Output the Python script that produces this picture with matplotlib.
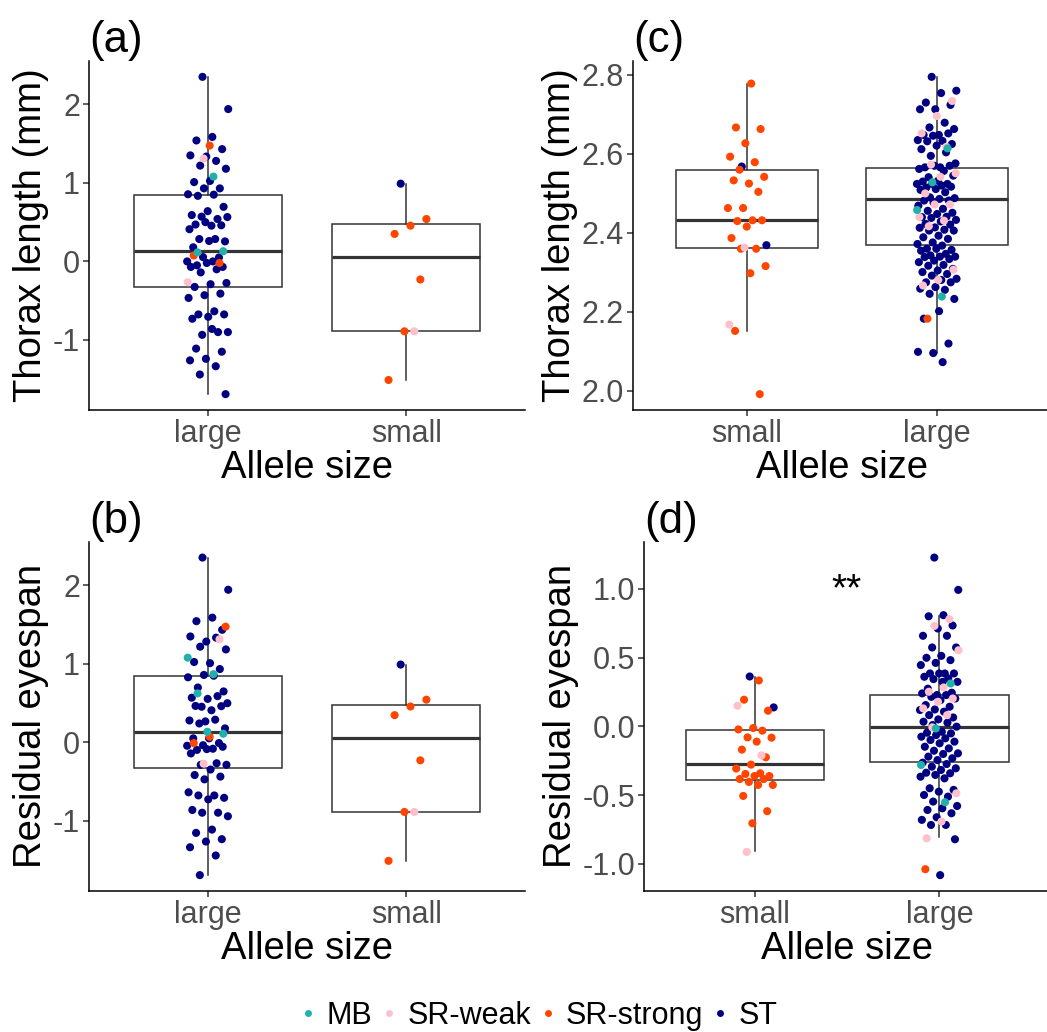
import numpy as np
import matplotlib
matplotlib.use('Agg')
import matplotlib.pyplot as plt
from matplotlib.lines import Line2D

plt.rcParams['font.family'] = ['Liberation Sans', 'DejaVu Sans']

# genotype colours
colours = {'MB': 'lightseagreen', 'SR-weak': 'pink', 'SR-strong': 'orangered', 'ST': 'navy'}

# ---- panel (a): thorax length, allele size groups (large, small)
a_large_st = [2.35, 1.94, 1.585, 1.54, 1.43, 1.335, 1.35, 1.28, 1.22, 1.18, 1.025, 1.01, 0.93, 0.93,
              0.855, 0.85, 0.835, 0.695, 0.64, 0.59, 0.54, 0.57, 0.565, 0.455, 0.47, 0.46, 0.50, 0.41,
              0.285, 0.285, 0.255, 0.26, 0.18, 0.05, 0.055, 0.0, 0.0, -0.05, -0.07, -0.02, -0.07, -0.10,
              -0.14, -0.275, -0.29, -0.325, -0.41, -0.43, -0.465, -0.635, -0.675, -0.675, -0.705, -0.73,
              -0.90, -0.935, -0.90, -0.86, -1.11, -1.15, -1.24, -1.26, -1.335, -1.44, -1.69]
a_large_mb = [1.08, 0.115, 0.13]
a_large_srw = [1.31, -0.265]
a_large_srs = [1.475, 0.075, -0.02]
a_small_st = [0.99]
a_small_mb = []
a_small_srw = [-0.89]
a_small_srs = [0.54, 0.455, 0.35, -0.23, -0.89, -1.51]
# whislo, q1, median, q3, whishi
a_box_large = [-1.69, -0.322, 0.127, 0.847, 2.35]
a_box_small = [-1.51, -0.89, 0.059, 0.479, 0.99]

# ---- panel (b): residual eyespan (large, small)
b_large_st = [2.35, 1.94, 1.585, 1.54, 1.43, 1.28, 1.345, 1.33, 1.215, 1.18, 1.005, 1.02, 0.93, 0.855,
              0.825, 0.845, 0.695, 0.645, 0.55, 0.565, 0.585, 0.45, 0.495, 0.405, 0.46, 0.457, 0.263,
              0.275, 0.285, 0.237, 0.174, 0.047, 0.047, -0.013, -0.04, -0.047, -0.085, -0.10, -0.06,
              -0.09, -0.145, -0.27, -0.29, -0.29, -0.35, -0.42, -0.44, -0.475, -0.64, -0.68, -0.68,
              -0.71, -0.73, -0.865, -0.90, -0.90, -0.945, -1.115, -1.157, -1.237, -1.267, -1.34,
              -1.445, -1.695]
b_large_mb = [1.075, 0.865, 0.62, 0.106, 0.131]
b_large_srw = [1.31, -0.275]
b_large_srs = [1.47, 0.068, -0.013]
b_small_st = [0.987]
b_small_mb = []
b_small_srw = [-0.89]
b_small_srs = [0.54, 0.453, 0.343, -0.233, -0.89, -1.513]
b_box_large = [-1.695, -0.326, 0.123, 0.839, 2.35]
b_box_small = [-1.513, -0.89, 0.055, 0.47, 0.987]

# ---- panel (c): thorax length (small, large)
c_small_st = [2.568, 2.369]
c_small_mb = []
c_small_srw = [2.363, 2.168]
c_small_srs = [2.778, 2.667, 2.663, 2.627, 2.593, 2.579, 2.56, 2.542, 2.525, 2.533, 2.504, 2.463,
               2.463, 2.432, 2.430, 2.432, 2.416, 2.387, 2.36, 2.36, 2.316, 2.298, 2.152, 1.992]
c_large_st = [2.795, 2.760, 2.754, 2.730, 2.724, 2.713, 2.713, 2.679, 2.667, 2.663, 2.648, 2.648,
              2.652, 2.646, 2.635, 2.633, 2.632, 2.625, 2.621, 2.612, 2.604, 2.595, 2.576, 2.566,
              2.566, 2.570, 2.570, 2.562, 2.557, 2.541, 2.545, 2.532, 2.530, 2.524, 2.524, 2.524,
              2.52, 2.515, 2.517, 2.511, 2.509, 2.503, 2.49, 2.488, 2.486, 2.482, 2.482, 2.477, 2.469,
              2.461, 2.456, 2.451, 2.448, 2.44, 2.441, 2.438, 2.433, 2.429, 2.423, 2.421, 2.414,
              2.413, 2.408, 2.406, 2.406, 2.393, 2.389, 2.385, 2.376, 2.372, 2.368, 2.36, 2.357,
              2.36, 2.355, 2.347, 2.343, 2.34, 2.34, 2.339, 2.334, 2.33, 2.326, 2.319, 2.317, 2.309,
              2.305, 2.301, 2.296, 2.292, 2.284, 2.281, 2.275, 2.275, 2.263, 2.259, 2.256, 2.246,
              2.233, 2.202, 2.183, 2.12, 2.096, 2.099, 2.073]
c_large_mb = [2.614, 2.528, 2.458, 2.239]
c_large_srw = [2.734, 2.696, 2.652, 2.618, 2.573, 2.551, 2.542, 2.5, 2.472, 2.472, 2.44, 2.431,
               2.417, 2.307, 2.281, 2.267]
c_large_srs = [2.183]
c_box_small = [2.153, 2.362, 2.433, 2.559, 2.776]
c_box_large = [2.096, 2.370, 2.485, 2.564, 2.795]

# ---- panel (d): residual eyespan (small, large)
d_small_st = [0.363, 0.138]
d_small_mb = []
d_small_srw = [0.150, -0.211, -0.913]
d_small_srs = [0.334, 0.194, 0.114, -0.012, -0.022, -0.031, -0.08, -0.082, -0.111, -0.169, -0.225,
               -0.278, -0.307, -0.341, -0.346, -0.361, -0.361, -0.383, -0.383, -0.404, -0.426,
               -0.426, -0.506, -0.617, -0.705]
d_large_st = [1.228, 0.993, 0.809, 0.801, 0.734, 0.712, 0.659, 0.659, 0.574, 0.574, 0.513, 0.499,
              0.482, 0.462, 0.446, 0.385, 0.385, 0.385, 0.385, 0.361, 0.349, 0.344, 0.324, 0.324,
              0.274, 0.245, 0.228, 0.24, 0.228, 0.215, 0.203, 0.191, 0.155, 0.143, 0.123, 0.119,
              0.107, 0.082, 0.065, 0.051, 0.034, 0.027, 0.01, -0.002, -0.039, -0.046, -0.051,
              -0.063, -0.075, -0.087, -0.099, -0.111, -0.123, -0.148, -0.16, -0.177, -0.196,
              -0.201, -0.22, -0.232, -0.245, -0.264, -0.274, -0.293, -0.305, -0.317, -0.337,
              -0.341, -0.353, -0.366, -0.378, -0.45, -0.462, -0.475, -0.499, -0.511, -0.547,
              -0.579, -0.596, -0.608, -0.632, -0.661, -0.68, -0.717, -0.717, -0.821, -1.082]
d_large_mb = [0.312, -0.015, -0.281, -0.552]
d_large_srw = [0.78, 0.731, 0.554, 0.283, 0.252, 0.203, 0.179, 0.131, 0.082, -0.007, -0.487,
               -0.692, -0.814]
d_large_srs = [-1.039]
d_box_small = [-0.91, -0.392, -0.276, -0.029, 0.361]
d_box_large = [-0.805, -0.257, -0.005, 0.228, 0.805]

grey = '#333333'


def jitter(n, width=0.105):
    # evenly spread horizontal offsets (deterministic stand-in for geom_jitter)
    k = np.arange(n)
    return ((k * 0.6180339 + 0.37) % 1.0 - 0.5) * 2 * width


def panel(ax, title, ylabel, cats, groups, boxes, yticks, ticklabels):
    stats = []
    for b in boxes:
        stats.append({'whislo': b[0], 'q1': b[1], 'med': b[2], 'q3': b[3], 'whishi': b[4]})
    ax.bxp(stats, positions=[1, 2], widths=0.75, showcaps=False, showfliers=False,
           patch_artist=True,
           boxprops=dict(facecolor='white', edgecolor=grey, linewidth=1.1),
           whiskerprops=dict(color=grey, linewidth=1.1),
           medianprops=dict(color=grey, linewidth=2.3), zorder=1)
    allv = []
    for i, g in enumerate(groups):
        st, mb, srw, srs = g
        vals = list(st) + list(srs) + list(srw) + list(mb)
        cols = ([colours['ST']] * len(st) + [colours['SR-strong']] * len(srs)
                + [colours['SR-weak']] * len(srw) + [colours['MB']] * len(mb))
        xs = (i + 1) + jitter(len(vals))
        ax.scatter(xs, vals, s=34, c=cols, linewidths=0, zorder=3)
        allv += vals + list(boxes[i])
    lo, hi = min(allv), max(allv)
    pad = 0.05 * (hi - lo)
    ax.set_ylim(lo - pad, hi + pad)
    ax.set_xlim(0.4, 2.6)
    ax.set_xticks([1, 2])
    ax.set_xticklabels(cats)
    ax.set_yticks(yticks)
    ax.set_yticklabels(ticklabels)
    ax.spines['top'].set_visible(False)
    ax.spines['right'].set_visible(False)
    for sp in ['left', 'bottom']:
        ax.spines[sp].set_linewidth(1.1)
        ax.spines[sp].set_color('black')
    ax.tick_params(length=4, width=1.1, color=grey, labelcolor='#4D4D4D', labelsize=22, pad=2.5)
    ax.set_xlabel('Allele size', fontsize=27.5, labelpad=1)
    ax.set_ylabel(ylabel, fontsize=27.5, labelpad=2.5)
    ax.set_title(title, loc='left', fontsize=31.5, pad=4)


fig = plt.figure(figsize=(10.47, 10.32), dpi=100)
W, H = 1047, 1032
ax_a = fig.add_axes([89 / W, 1 - 410 / H, (525 - 89) / W, (410 - 61) / H])
ax_b = fig.add_axes([89 / W, 1 - 891 / H, (525 - 89) / W, (891 - 541.7) / H])
ax_c = fig.add_axes([633 / W, 1 - 410 / H, (1050.8 - 633) / W, (410 - 61) / H])
ax_d = fig.add_axes([644 / W, 1 - 891 / H, (1050.1 - 644) / W, (891 - 541.7) / H])

panel(ax_a, '(a)', 'Thorax length (mm)', ['large', 'small'],
      [(a_large_st, a_large_mb, a_large_srw, a_large_srs),
       (a_small_st, a_small_mb, a_small_srw, a_small_srs)],
      [a_box_large, a_box_small], [-1, 0, 1, 2], ['-1', '0', '1', '2'])
panel(ax_b, '(b)', 'Residual eyespan', ['large', 'small'],
      [(b_large_st, b_large_mb, b_large_srw, b_large_srs),
       (b_small_st, b_small_mb, b_small_srw, b_small_srs)],
      [b_box_large, b_box_small], [-1, 0, 1, 2], ['-1', '0', '1', '2'])
panel(ax_c, '(c)', 'Thorax length (mm)', ['small', 'large'],
      [(c_small_st, c_small_mb, c_small_srw, c_small_srs),
       (c_large_st, c_large_mb, c_large_srw, c_large_srs)],
      [c_box_small, c_box_large], [2.0, 2.2, 2.4, 2.6, 2.8], ['2.0', '2.2', '2.4', '2.6', '2.8'])
panel(ax_d, '(d)', 'Residual eyespan', ['small', 'large'],
      [(d_small_st, d_small_mb, d_small_srw, d_small_srs),
       (d_large_st, d_large_mb, d_large_srw, d_large_srs)],
      [d_box_small, d_box_large], [-1.0, -0.5, 0.0, 0.5, 1.0],
      ['-1.0', '-0.5', '0.0', '0.5', '1.0'])
ax_d.text(1.5, 0.99, '**', fontsize=28, ha='center', va='center')

handles = [Line2D([], [], marker='o', linestyle='none', markersize=5, markeredgewidth=0,
                  color=colours[k]) for k in colours]
fig.legend(handles, list(colours.keys()), loc='center', bbox_to_anchor=(539 / W, 1 - 1016 / H),
           ncol=4, frameon=False, fontsize=22, handlelength=0.5, handletextpad=0.35,
           columnspacing=0.3, borderpad=0)

fig.savefig('out.png', dpi=100)
